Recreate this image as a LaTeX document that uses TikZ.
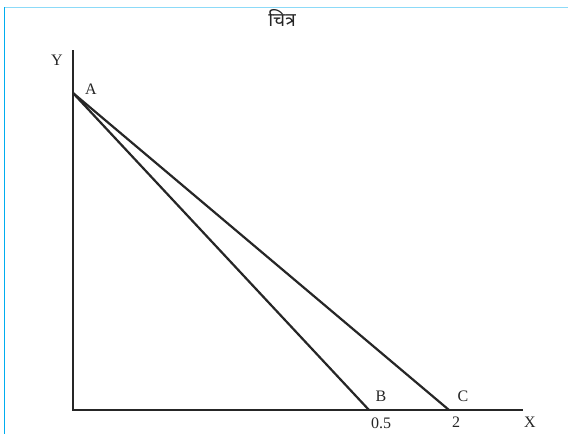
\documentclass[tikz,border=0pt]{standalone}
\usepackage{fontspec}
\setmainfont{Liberation Serif}
\newfontfamily\devfont[Script=Devanagari]{Noto Sans}
\begin{document}
\begin{tikzpicture}[x=1pt,y=-1pt,
  axis/.style={line width=2.4pt,black!85},
  ray/.style={line width=2.2pt,black!85},
  lab/.style={font=\fontsize{16}{16}\selectfont,inner sep=0pt,text=black!85}]
\useasboundingbox (0,0) rectangle (568,434);
\fill[white] (0,0) rectangle (568,434);
\draw[cyan!45,line width=1pt] (4,7) -- (568,7);
\draw[cyan,line width=1.5pt] (4.5,7) -- (4.5,434);
\node[font=\devfont\bfseries\fontsize{19}{19}\selectfont,inner sep=0pt,text=black!85] (title) at (282,18) {चित्र};
\coordinate (O) at (73,410);
\coordinate (Yend) at (73,50);
\coordinate (Xend) at (523,410);
\coordinate (A) at (73,93);
\coordinate (B) at (369,410);
\coordinate (C) at (449,410);
\draw[axis] (Yend) -- (O) -- (Xend);
\draw[ray] (A) -- (B);
\draw[ray] (A) -- (C);
\node[lab] (ly) at (57,60) {Y};
\node[lab] (la) at (91,89) {A};
\node[lab] (lb) at (381,396) {B};
\node[lab] (lc) at (463,396) {C};
\node[lab] (l05) at (381,423) {0.5};
\node[lab] (l2) at (456,422) {2};
\node[lab] (lx) at (530,422) {X};
\end{tikzpicture}
\end{document}
